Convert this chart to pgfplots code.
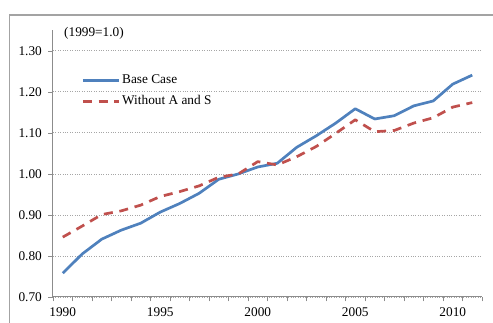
\documentclass[border=0pt]{standalone}
\usepackage{fontspec}
\setmainfont{Liberation Serif}
\usepackage{pgfplots}
\pgfplotsset{compat=1.18}
\definecolor{bc}{HTML}{4F81BD}
\definecolor{wa}{HTML}{C0504D}
\definecolor{ax}{HTML}{8C8C8C}
\begin{document}
\fontsize{13.3}{16}\selectfont
\begin{tikzpicture}[x=1pt,y=1pt]
\useasboundingbox (0,0) rectangle (493,323);
\draw[ax!80, line width=1.2pt] (9.5,0) -- (9.5,308) -- (493,308);
\node[anchor=west, inner sep=0pt, font=\fontsize{13.3}{16}\selectfont] at (64,290) {(1999=1.0)};
\begin{axis}[
  at={(53pt,26pt)}, anchor=south west,
  width=429pt, height=267pt, scale only axis,
  xmin=1989.5, xmax=2011.5, ymin=0.70, ymax=1.351,
  axis lines=left,
  axis line style={-, ax, line width=1pt},
  xtick={1990,1995,2000,2005,2010},
  minor xtick={1989.5,1990.5,1991.5,1992.5,1993.5,1994.5,1995.5,1996.5,1997.5,1998.5,1999.5,2000.5,2001.5,2002.5,2003.5,2004.5,2005.5,2006.5,2007.5,2008.5,2009.5,2010.5,2011.5},
  major x tick style={draw=none},
  minor x tick style={ax, line width=0.8pt},
  ytick={0.7,0.8,0.9,1.0,1.1,1.2,1.3},
  ytick style={ax, line width=0.8pt},
  tick align=outside,
  major tick length=5pt, minor tick length=4.5pt,
  ymajorgrids,
  grid style={gray!70, dotted, line width=0.9pt},
  /pgf/number format/assume math mode=true,
  xticklabel style={yshift=-1pt, /pgf/number format/1000 sep={}},
  yticklabel style={xshift=-1.5pt, /pgf/number format/.cd, fixed, fixed zerofill, precision=2},
  tick label style={font=\fontsize{13.3}{16}\selectfont, text=black},
  clip=false,
  legend cell align=left,
  legend image code/.code={\draw[#1] (0pt,0pt) -- (36pt,0pt);},
  legend style={draw=none, fill=none, inner sep=0pt, at={(0.066,0.84)}, anchor=north west,
    font=\fontsize{13.3}{16}\selectfont, row sep=6pt,
    /tikz/every even column/.append style={column sep=1pt}},
]
\addplot[bc, line width=2.7pt, line join=round] coordinates {
(1990,0.758) (1991,0.805) (1992,0.841) (1993,0.863) (1994,0.880) (1995,0.907)
(1996,0.928) (1997,0.953) (1998,0.987) (1999,1.000) (2000,1.017) (2001,1.026)
(2002,1.065) (2003,1.093) (2004,1.124) (2005,1.159) (2006,1.134) (2007,1.142)
(2008,1.166) (2009,1.178) (2010,1.219) (2011,1.241)};
\addlegendentry{Base Case}
\addplot[wa, line width=2.7pt, dash pattern=on 9pt off 6.75pt, line join=round] coordinates {
(1990,0.846) (1991,0.873) (1992,0.901) (1993,0.910) (1994,0.924) (1995,0.945)
(1996,0.957) (1997,0.971) (1998,0.992) (1999,1.000) (2000,1.030) (2001,1.022)
(2002,1.042) (2003,1.067) (2004,1.099) (2005,1.132) (2006,1.103) (2007,1.106)
(2008,1.124) (2009,1.137) (2010,1.163) (2011,1.174)};
\addlegendentry{Without A and S}
\end{axis}
\end{tikzpicture}
\end{document}
